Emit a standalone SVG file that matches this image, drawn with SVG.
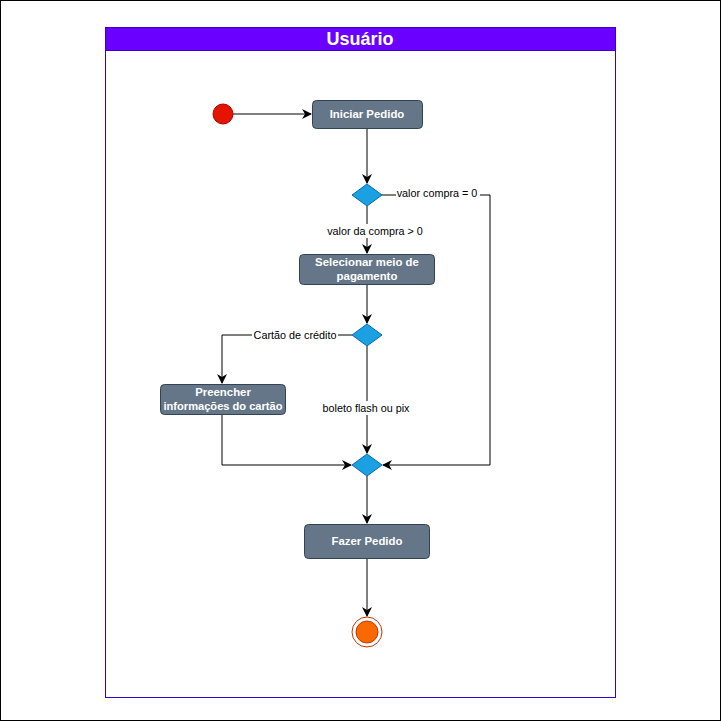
<svg xmlns="http://www.w3.org/2000/svg" width="721" height="721" viewBox="0 0 721 721">
<defs>
<marker id="arr" viewBox="0 0 10 10" refX="9" refY="5" markerWidth="10" markerHeight="10" markerUnits="userSpaceOnUse" orient="auto">
<path d="M0,0 L10,5 L0,10 L3,5 Z" fill="#000"/>
</marker>
<style>
.node rect{fill:#647687;stroke:#314354;stroke-width:1}
.nt{font-family:"Liberation Sans",Arial,sans-serif;font-size:11.4px;font-weight:bold;fill:#fff;text-anchor:middle}
.dia{fill:#1ba1e2;stroke:#006eaf;stroke-width:1}
.edge{fill:none;stroke:#000;stroke-width:1}
.lbl{font-family:"Liberation Sans",Arial,sans-serif;font-size:10.8px;fill:#000;text-anchor:middle}
.lblbg{fill:#fff}
</style>
</defs>
<rect x="0" y="0" width="721" height="721" fill="#fff"/>
<rect x="0.5" y="0.5" width="720" height="720" fill="none" stroke="#000" stroke-width="1"/>
<g id="lane">
<rect x="105.5" y="27.5" width="510" height="670" fill="#fff" stroke="#3700cc" stroke-width="1"/>
<rect x="105.5" y="27.5" width="510" height="23" fill="#6a00ff" stroke="#3700cc" stroke-width="1"/>
<text x="360" y="45" font-family="'Liberation Sans',Arial,sans-serif" font-size="18" font-weight="bold" fill="#fff" text-anchor="middle">Usuário</text>
</g>
<g id="connectors">
<path class="edge" d="M233,114 L311,114" marker-end="url(#arr)"/>
<path class="edge" d="M367,128 L367,183" marker-end="url(#arr)"/>
<path class="edge" d="M382,195 L490,195 L490,465 L383,465" marker-end="url(#arr)"/>
<path class="edge" d="M367,206 L367,253" marker-end="url(#arr)"/>
<path class="edge" d="M367,284 L367,323" marker-end="url(#arr)"/>
<path class="edge" d="M352,335 L222,335 L222,383" marker-end="url(#arr)"/>
<path class="edge" d="M222,414 L222,465 L351,465" marker-end="url(#arr)"/>
<path class="edge" d="M367,346 L367,453" marker-end="url(#arr)"/>
<path class="edge" d="M367,476 L367,523" marker-end="url(#arr)"/>
<path class="edge" d="M367,558 L367,616" marker-end="url(#arr)"/>
<rect class="lblbg" x="396" y="186" width="84" height="14"/>
<text class="lbl" x="437" y="197">valor compra = 0</text>
<rect class="lblbg" x="325" y="224" width="100" height="14"/>
<text class="lbl" x="375" y="235">valor da compra &gt; 0</text>
<rect class="lblbg" x="252" y="328" width="86" height="14"/>
<text class="lbl" x="295" y="339">Cartão de crédito</text>
<rect class="lblbg" x="319" y="401" width="95" height="14"/>
<text class="lbl" x="366" y="412">boleto flash ou pix</text>
</g>
<g id="start">
<circle cx="223" cy="114" r="10" fill="#e51400" stroke="#b20000" stroke-width="1"/>
</g>
<g id="iniciar" class="node">
<rect x="312.5" y="100.5" width="110" height="28" rx="4"/>
<text class="nt" x="367" y="118">Iniciar Pedido</text>
</g>
<g id="dec1">
<path class="dia" d="M367,184 L382,195 L367,206 L352,195 Z"/>
</g>
<g id="selecionar" class="node">
<rect x="299.5" y="254.5" width="135" height="30" rx="4"/>
<text class="nt" x="367" y="266">Selecionar meio de</text>
<text class="nt" x="367" y="280">pagamento</text>
</g>
<g id="dec2">
<path class="dia" d="M367,324 L382,335 L367,346 L352,335 Z"/>
</g>
<g id="preencher" class="node">
<rect x="160.5" y="384.5" width="125" height="30" rx="4"/>
<text class="nt" x="223" y="396">Preencher</text>
<text class="nt" x="223" y="410" textLength="119" lengthAdjust="spacingAndGlyphs">informações do cartão</text>
</g>
<g id="merge">
<path class="dia" d="M367,454 L382,465 L367,476 L352,465 Z"/>
</g>
<g id="fazer" class="node">
<rect x="304.5" y="524.5" width="125" height="34" rx="4"/>
<text class="nt" x="367" y="545">Fazer Pedido</text>
</g>
<g id="end">
<circle cx="367" cy="632" r="15" fill="#fff" stroke="#c73500" stroke-width="1"/>
<circle cx="367" cy="632" r="11" fill="#fa6800" stroke="#c73500" stroke-width="1"/>
</g>
</svg>
